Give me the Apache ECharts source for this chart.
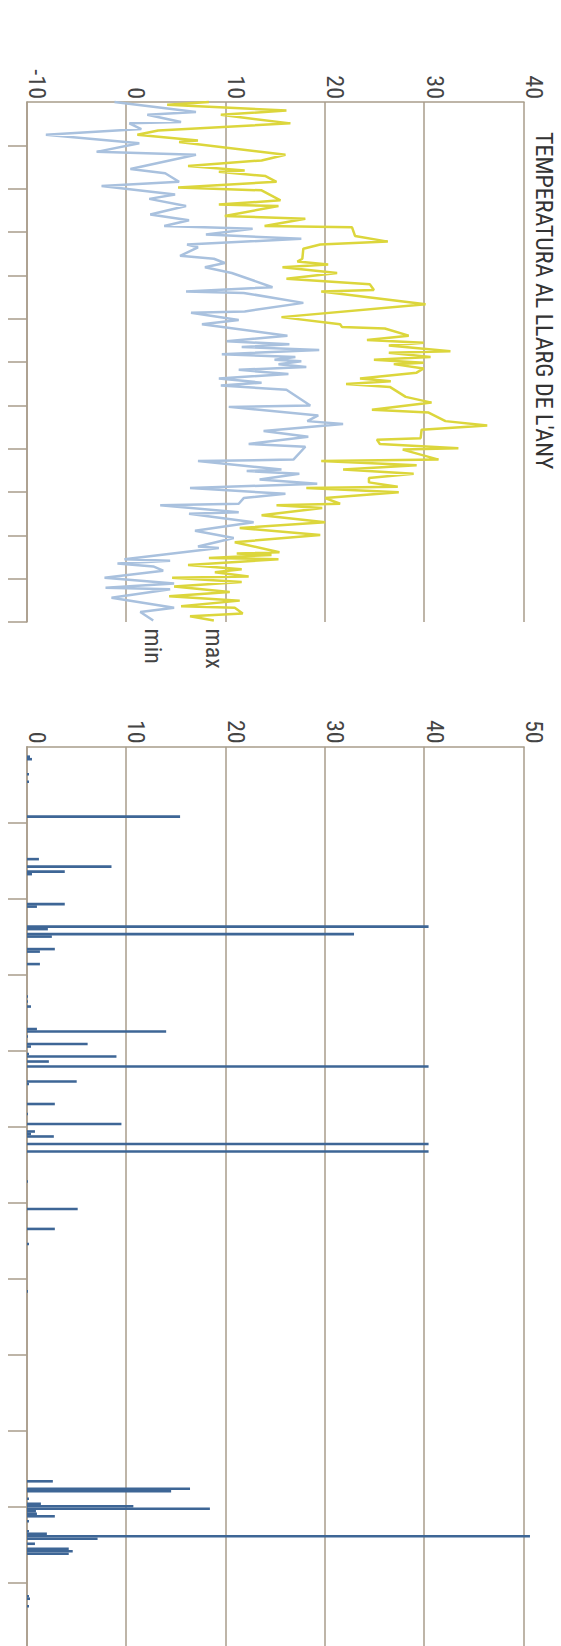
<!DOCTYPE html>
<html>
<head>
<meta charset="utf-8">
<script src="https://cdn.jsdelivr.net/npm/echarts@6/dist/echarts.min.js"></script>
<style>
html,body{margin:0;padding:0;width:561px;height:1646px;overflow:hidden;background:#fff}
#chart{position:absolute;left:0;top:0;width:1680px;height:561px;transform-origin:0 0;transform:translateX(561px) rotate(90deg)}
</style>
</head>
<body>
<div id="chart"></div>
<script>
// ---- data (day of year, value) ----
const titleText = "TEMPERATURA AL LLARG DE L'ANY";
const seriesNames = ['max', 'min'];

const maxDays = [0,2,6,9,15,20,23,27,28,37,41,45,48,49,52,56,60,62,69,72,73,80,82,87,88,94,98,100,103,110,112,114,116,120,
  124,128,132,133,142,151,156,158,159,164,167,169,171,175,176,179,181,183,184,187,190,194,196,198,200,207,211,216,218,224,227,230,236,237,240,243,
  244,251,252,255,258,261,264,267,270,271,274,278,282,283,285,290,295,299,304,309,316,317,318,320,321,325,328,330,333,334,337,340,344,347,350,354,355,359,361,364];
const maxValues = [8.3,4.1,16.1,9.5,16.5,3.2,1.1,7.2,5.3,16.0,13.6,6.2,11.9,9.3,14.0,15.1,5.2,13.6,15.5,9.3,15.3,9.9,18.0,13.9,22.7,23.0,26.3,19.5,17.8,17.7,17.2,20.3,15.7,21.2,
  16.1,24.5,24.9,19.6,30.1,15.6,21.5,21.7,26.0,28.4,24.2,29.9,26.4,32.6,26.4,30.6,24.9,29.9,26.9,29.9,29.2,23.5,26.6,22.1,26.5,28.1,30.7,24.7,30.4,32.1,36.3,29.7,29.6,25.2,25.5,33.4,
  27.8,31.4,19.6,29.2,21.8,28.9,24.4,24.4,27.3,18.1,27.4,20.0,21.5,15.1,19.7,13.6,20.0,11.4,19.5,10.9,15.4,11.1,14.6,8.3,15.3,6.2,11.6,8.9,12.3,4.6,11.6,4.8,10.4,4.3,11.4,5.5,10.9,11.7,6.4,8.8];

const minDays = [0,7,9,14,15,19,23,29,35,37,47,50,56,59,65,68,73,79,83,87,89,93,96,100,102,108,110,113,116,120,
  130,133,134,141,147,148,153,156,164,168,170,172,174,177,179,181,182,184,186,188,191,194,197,199,202,213,214,220,224,226,231,235,240,242,
  251,252,258,259,261,265,268,271,275,278,282,283,288,289,295,301,306,312,313,321,322,324,326,329,334,338,341,342,348,355,358,364];
const minValues = [-1.2,7.0,2.1,5.5,0.3,1.5,-8.1,1.3,-3.0,7.0,0.4,3.9,5.3,-2.5,4.9,2.3,6.0,2.4,6.3,3.8,12.7,8.0,17.6,6.1,7.2,5.4,8.8,9.9,7.9,10.6,
  14.7,6.0,11.8,17.8,11.9,6.5,11.3,7.6,16.2,10.1,16.4,11.6,19.4,9.6,17.0,14.9,17.6,15.3,18.1,11.3,16.3,9.3,13.6,9.5,16.1,18.5,10.3,19.3,18.2,21.8,13.8,18.3,12.3,18.0,
  16.8,7.2,15.6,12.1,17.4,13.4,19.2,6.4,16.0,11.8,11.3,3.4,11.3,6.3,12.8,6.9,10.8,7.2,9.3,-0.2,4.4,-0.9,2.7,3.7,-2.2,4.8,-2.1,4.4,-1.5,4.8,1.4,2.7];

const rainDays = [4,5,11,14,28,45,48,50,51,63,64,72,73,75,76,81,82,87,100,102,104,113,114,116,119,120,123,124,126,128,134,135,143,147,151,154,155,156,159,162,174,185,193,199,218,
  294,297,298,301,303,304,305,306,307,308,310,314,315,316,317,319,321,322,323,340,341,344];
const rainValues = [0.3,0.5,0.2,0.2,15.4,1.2,8.5,3.8,0.5,3.8,1.0,40.4,2.1,32.9,2.5,2.8,1.3,1.3,0.1,0.1,0.4,1.0,14.0,0.1,6.1,0.4,0.2,9.0,2.2,40.4,5.0,0.2,2.8,0.1,9.5,0.8,0.4,2.7,40.4,40.4,0.1,5.1,2.8,0.2,0.1,
  2.6,16.4,14.5,0.2,1.4,10.7,18.4,0.9,1.0,2.8,0.2,0.2,2.0,50.6,7.1,0.8,4.2,4.6,4.2,0.2,0.3,0.2];

const tempTicks = [-10, 0, 10, 20, 30, 40];
const rainTicks = [0, 10, 20, 30, 40, 50];
const monthBoundaries = [30.42, 60.83, 91.25, 121.67, 152.08, 182.5, 212.92, 243.33, 273.75, 304.17, 334.58, 365];

// ---- styling ----
const FONT = '"Liberation Sans Narrow", "Roboto Condensed", "Arial Narrow", Roboto, sans-serif';
const AXIS_COLOR = '#a89d8b';
const TEXT_COLOR = '#444';
const MAX_COLOR = '#dcd63c';
const MIN_COLOR = '#a9c1de';
const RAIN_COLOR = '#3e6696';

const zip = (a, b) => a.map((d, i) => [d, b[i]]);

function xAxisCfg(gi) {
  return {
    gridIndex: gi, type: 'value', min: 0, max: 365,
    axisLine: { show: true, onZero: false, lineStyle: { color: AXIS_COLOR, width: 1.5 } },
    axisTick: { show: true, length: 19, customValues: monthBoundaries, lineStyle: { color: AXIS_COLOR, width: 1.5 } },
    axisLabel: { show: false },
    splitLine: { show: false }
  };
}
function yAxisCfg(gi, ticks) {
  return {
    gridIndex: gi, type: 'value', min: ticks[0], max: ticks[ticks.length - 1], interval: ticks[1] - ticks[0],
    axisLine: { show: true, onZero: false, lineStyle: { color: AXIS_COLOR, width: 1.5 } },
    axisTick: { show: false },
    axisLabel: { show: true, margin: 3, fontSize: 24, fontFamily: FONT, color: TEXT_COLOR, verticalAlign: 'bottom', lineHeight: 20 },
    splitLine: { show: true, lineStyle: { color: AXIS_COLOR, width: 1.5 } }
  };
}
function endLabel(name) {
  return { show: true, formatter: name, distance: 8, fontSize: 24, fontFamily: FONT, color: TEXT_COLOR };
}

const chart = echarts.init(document.getElementById('chart'), null, { renderer: 'svg' });
chart.setOption({
  animation: false,
  backgroundColor: '#fff',
  title: { text: titleText, left: 127, top: 0, textStyle: { fontSize: 24, lineHeight: 24, fontWeight: 'normal', fontFamily: FONT, color: '#333' } },
  grid: [
    { left: 102, width: 520, top: 37, bottom: 27 },
    { left: 746.7, width: 912, top: 37, bottom: 27 }
  ],
  xAxis: [xAxisCfg(0), xAxisCfg(1)],
  yAxis: [yAxisCfg(0, tempTicks), yAxisCfg(1, rainTicks)],
  series: [
    { name: seriesNames[0], type: 'line', xAxisIndex: 0, yAxisIndex: 0, data: zip(maxDays, maxValues), showSymbol: false,
      lineStyle: { color: MAX_COLOR, width: 2.5 }, itemStyle: { color: MAX_COLOR }, endLabel: endLabel(seriesNames[0]) },
    { name: seriesNames[1], type: 'line', xAxisIndex: 0, yAxisIndex: 0, data: zip(minDays, minValues), showSymbol: false,
      lineStyle: { color: MIN_COLOR, width: 2.5 }, itemStyle: { color: MIN_COLOR }, endLabel: endLabel(seriesNames[1]) },
    { name: 'pluja', type: 'bar', xAxisIndex: 1, yAxisIndex: 1, data: zip(rainDays, rainValues), barWidth: 2.6, clip: false,
      itemStyle: { color: RAIN_COLOR } }
  ]
});
</script>
</body>
</html>
